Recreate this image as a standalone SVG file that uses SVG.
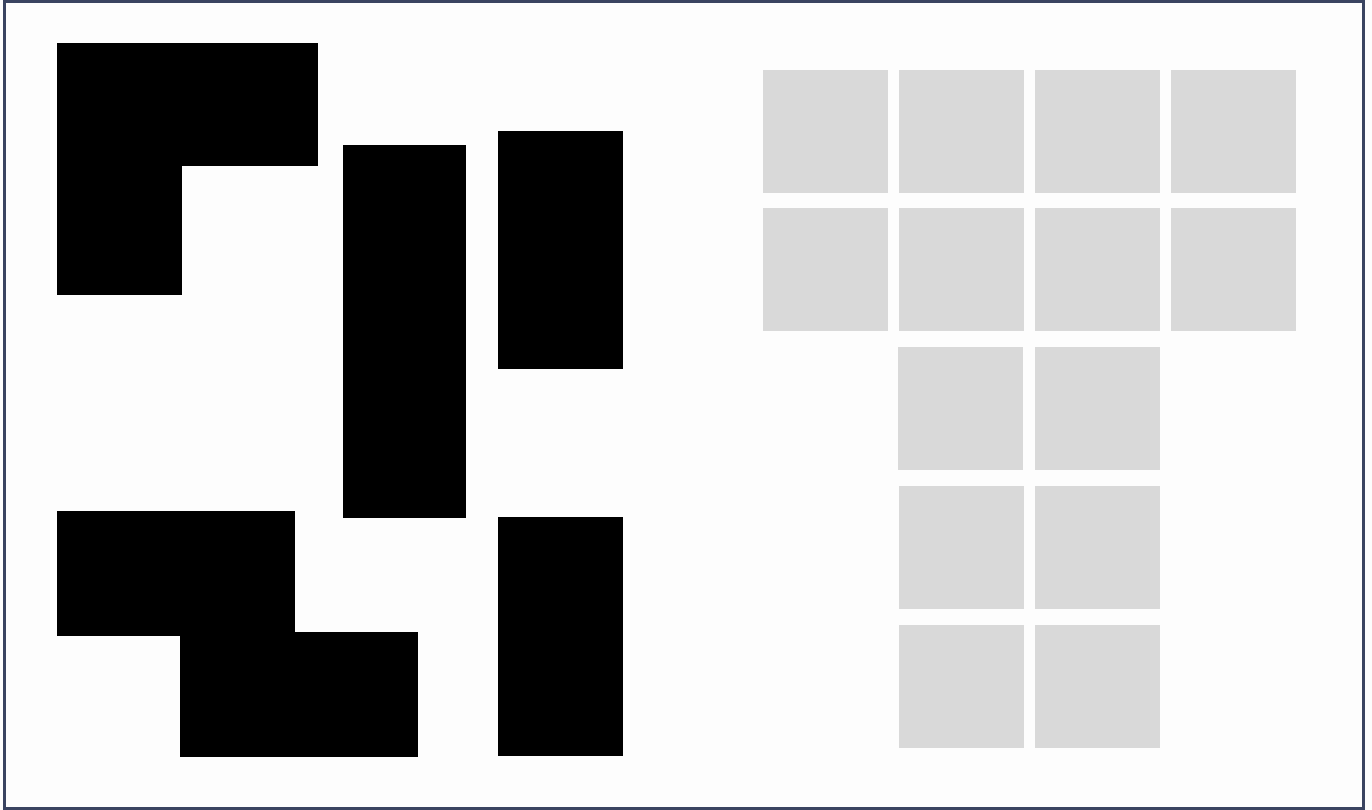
<svg xmlns="http://www.w3.org/2000/svg" width="1372" height="810" viewBox="0 0 1372 810">
<style>
.blk{fill:#000}
.cell{fill:#d9d9d9}
</style>
<rect x="0" y="0" width="1372" height="810" fill="#fdfdfd"/>
<rect x="4.5" y="1.5" width="1359" height="807" fill="none" stroke="#3a4461" stroke-width="3"/>
<g id="shapes-left">
<path class="blk" d="M57 43H318V166H182V295H57Z"/>
<rect class="blk" x="343" y="145" width="123" height="373"/>
<rect class="blk" x="498" y="131" width="125" height="238"/>
<path class="blk" d="M57 511H295V632H418V757H180V636H57Z"/>
<rect class="blk" x="498" y="517" width="125" height="239"/>
</g>
<g id="grid-right">
<rect class="cell" x="763" y="70" width="125" height="123"/>
<rect class="cell" x="899" y="70" width="125" height="123"/>
<rect class="cell" x="1035" y="70" width="125" height="123"/>
<rect class="cell" x="1171" y="70" width="125" height="123"/>
<rect class="cell" x="763" y="208" width="125" height="123"/>
<rect class="cell" x="899" y="208" width="125" height="123"/>
<rect class="cell" x="1035" y="208" width="125" height="123"/>
<rect class="cell" x="1171" y="208" width="125" height="123"/>
<rect class="cell" x="898" y="347" width="125" height="123"/>
<rect class="cell" x="1035" y="347" width="125" height="123"/>
<rect class="cell" x="899" y="486" width="125" height="123"/>
<rect class="cell" x="1035" y="486" width="125" height="123"/>
<rect class="cell" x="899" y="625" width="125" height="123"/>
<rect class="cell" x="1035" y="625" width="125" height="123"/>
</g>
</svg>
